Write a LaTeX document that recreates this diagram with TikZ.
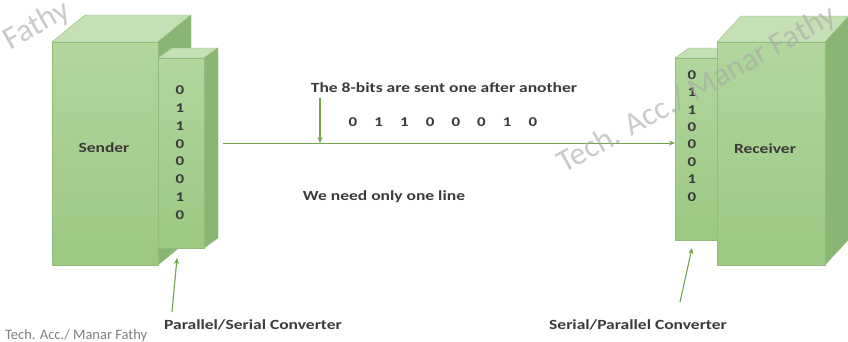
\documentclass[tikz,border=0pt]{standalone}
\usepackage{fontspec}
\setmainfont[FakeStretch=1.25]{Carlito}
\newfontfamily\wmfont{Carlito}
\usetikzlibrary{arrows.meta,calc,positioning}
\definecolor{ink}{HTML}{3A3A3A}
\definecolor{muted}{HTML}{808080}
\definecolor{wmark}{HTML}{A8A8A8}
\definecolor{fronthi}{HTML}{B2D69C}
\definecolor{frontlo}{HTML}{9CC882}
\definecolor{topface}{HTML}{C6E0B5}
\definecolor{sideface}{HTML}{8AB573}
\definecolor{edge}{HTML}{93BC7B}
\definecolor{arrowgreen}{HTML}{6FA34C}

\begin{document}
\begin{tikzpicture}[x=1pt,y=-1pt,font=\bfseries\fontsize{14}{16}\selectfont,
  bit/.style={font=\bfseries\fontsize{13.5}{15}\selectfont,color=ink,inner sep=0pt},
  lbl/.style={color=ink,inner sep=0pt},
  wm/.style={rotate=29,font=\wmfont\fontsize{32}{34}\selectfont,color=wmark,opacity=0.6,inner sep=0pt},
  flow/.style={-{Stealth[length=6pt,width=5pt]},line width=1.1pt,color=arrowgreen}]
  \useasboundingbox (0,0) rectangle (848,341);
  \clip (0,0) rectangle (848,341);
  \fill[white] (0,0) rectangle (848,341);

  \foreach \n/\x/\y/\w/\h/\dx/\dy in {snd/52/42/106/223/33/27,sconv/158/58/46/190/14/10,rconv/675/58/45/182/14/10,rcv/717/42/108/223/24/26} {
    \fill[topface,draw=edge,line width=0.4pt] (\x,\y) -- ++(\dx,-\dy) -- ++(\w,0) -- ++(-\dx,\dy) -- cycle;
    \fill[sideface,draw=edge,line width=0.4pt] (\x+\w,\y) -- ++(\dx,-\dy) -- ++(0,\h) -- ++(-\dx,\dy) -- cycle;
    \shade[top color=fronthi,bottom color=frontlo] (\x,\y) rectangle ++(\w,\h);
    \draw[edge,line width=0.4pt] (\x,\y) rectangle ++(\w,\h);
    \node[inner sep=0pt,minimum width=\w pt,minimum height=\h pt,anchor=north west] (\n) at (\x,\y) {};
  }

  \node[lbl] (sndtxt) at (104,148) {Sender};
  \node[lbl] (rcvtxt) at (765,149) {Receiver};

  \foreach \b [count=\i] in {0,1,1,0,0,0,1,0} {
    \node[bit] (sb\i) at (180,72.1+\i*17.9) {\b};
    \node[bit] (rb\i) at (692,57.6+\i*17.4) {\b};
    \node[bit] (lb\i) at (327.3+\i*25.7,122) {\b};
  }

  \node[lbl] (sent) at (444,88) {The 8-bits are sent one after another};
  \node[lbl] (oneline) at (384,197) {We need only one line};
  \node[lbl] (psconv) at (253,325) {Parallel/Serial Converter};
  \node[lbl] (spconv) at (638,325) {Serial/Parallel Converter};

  \coordinate (linestart) at (223,143);
  \coordinate (sentdown) at (320,98);
  \coordinate (pstail) at (172,312);
  \coordinate (pstip) at (177,258);
  \coordinate (sptail) at (680,302);
  \coordinate (sptip) at (692,248);

  \draw[flow,line width=1pt] (linestart) -- (linestart -| rconv.west);
  \draw[flow] (sentdown) -- (sentdown |- linestart);
  \draw[flow] (pstail) -- (pstip);
  \draw[flow] (sptail) -- (sptip);

  \node[anchor=base west,font=\wmfont\fontsize{14.5}{16}\selectfont,color=muted,inner sep=0pt] (credit) at (5,339) {Tech. Acc./ Manar Fathy};
  \node[wm,anchor=base west] (wmright) at (564,174) {Tech. Acc./ Manar Fathy};
  \node[wm,anchor=base east] (wmleft) at (72,16) {Tech. Acc./ Manar Fathy};
\end{tikzpicture}
\end{document}
